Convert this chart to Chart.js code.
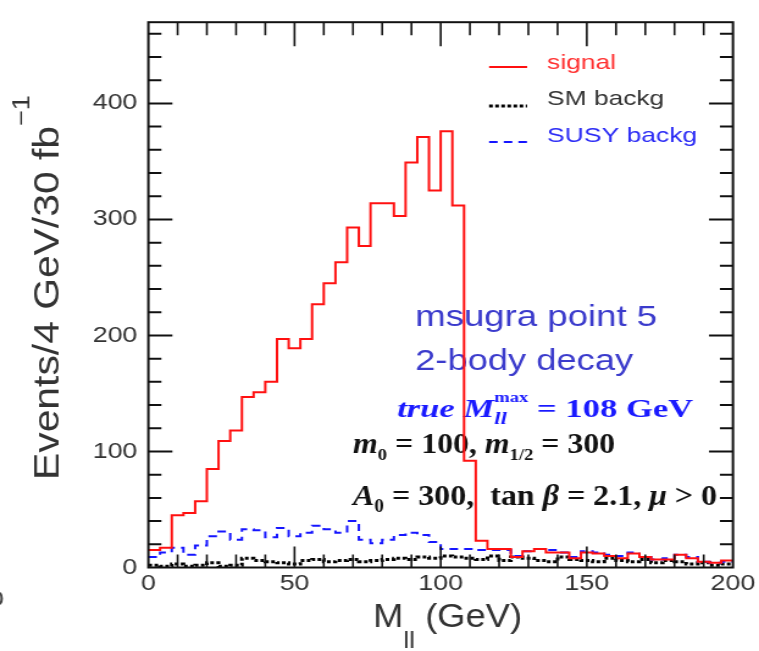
<!DOCTYPE html>
<html>
<head>
<meta charset="utf-8">
<script src="https://cdn.jsdelivr.net/npm/chart.js@4.4.1/dist/chart.umd.min.js"></script>
<style>
  html, body { margin: 0; padding: 0; background: #fff; overflow: hidden; }
</style>
</head>
<body>
<canvas id="c" width="622" height="651" style="display:block;width:759px;height:651px"></canvas>
<script>
// the original picture is stretched sideways, so the canvas is drawn narrow and widened by css
var S = 1.22;
var BIN = 4; // GeV per bin

// events per 4 GeV bin, M_ll from 0 to 200
var signal = [15, 17, 45, 47, 57, 85, 109, 118, 147, 151, 160, 197, 189, 197, 227, 245, 263, 293, 277, 314,
              314, 303, 349, 371, 325, 376, 312, 92, 23, 16, 16, 9, 14, 16, 13, 13, 8, 13, 12, 10,
              8, 12, 9, 7, 7, 11, 8, 5, 4, 6];
var smBackg = [2, 1, 3, 1, 2, 4, 1, 2, 8, 6, 5, 4, 3, 6, 7, 5, 6, 7, 5, 6,
               7, 8, 7, 9, 8, 10, 9, 8, 7, 10, 6, 9, 8, 6, 5, 9, 7, 6, 5, 8,
               6, 5, 7, 4, 6, 5, 3, 4, 2, 3];
var susyBackg = [9, 13, 17, 11, 19, 27, 31, 24, 33, 32, 26, 34, 27, 30, 36, 33, 30, 40, 24, 21,
                 24, 28, 30, 28, 22, 16, 16, 16, 15, 15, 15, 10, 14, 16, 15, 13, 9, 14, 13, 11,
                 10, 13, 9, 7, 8, 11, 9, 5, 4, 5];

var xTickVals = [0, 50, 100, 150, 200];
var yTickVals = [0, 100, 200, 300, 400];

var SANS = '"Liberation Sans", Arial, sans-serif';
var SERIF = '"Liberation Serif", "Times New Roman", serif';

function px(x) { return x / S; }

// histogram: one point per low bin edge, plus the upper edge of the last bin
function steps(vals) {
  var pts = vals.map(function(v, i) { return {x: i * BIN, y: v}; });
  pts.push({x: vals.length * BIN, y: vals[vals.length - 1]});
  return pts;
}

// draw a row of text pieces, squeezed or widened to a given width
function drawRich(ctx, segs, x, y, width, angle) {
  var total = 0;
  segs.forEach(function(s) {
    ctx.font = s.f;
    if (!s.noAdv) total += ctx.measureText(s.t).width;
  });
  var k = width ? width / total : 1;
  ctx.save();
  ctx.translate(x, y);
  if (angle) ctx.rotate(angle);
  ctx.scale(k, 1);
  ctx.textBaseline = 'alphabetic';
  ctx.textAlign = 'left';
  var cx = 0;
  segs.forEach(function(s) {
    ctx.font = s.f;
    ctx.fillStyle = s.c;
    ctx.fillText(s.t, cx, s.dy || 0);
    if (!s.noAdv) cx += ctx.measureText(s.t).width;
  });
  ctx.restore();
}

var decor = {
  id: 'decor',
  beforeDatasetsDraw: function(chart) {
    var ctx = chart.ctx;
    var blue = '#3b3bcc', tblue = '#1a1aff', blk = '#111';

    drawRich(ctx, [{t: 'msugra point 5', f: '30px ' + SANS, c: blue}], px(415), 326, px(242));
    drawRich(ctx, [{t: '2-body decay', f: '30px ' + SANS, c: blue}], px(415), 370, px(218));

    drawRich(ctx, [
      {t: 'true ', f: 'italic bold 26px ' + SERIF, c: tblue},
      {t: 'M', f: 'italic bold 26px ' + SERIF, c: tblue},
      {t: 'll', f: 'italic bold 17px ' + SERIF, c: tblue, dy: 7, noAdv: true},
      {t: 'max', f: 'bold 14px ' + SERIF, c: tblue, dy: -15},
      {t: ' = 108 GeV', f: 'bold 26px ' + SERIF, c: tblue}
    ], px(397), 417, px(296));

    drawRich(ctx, [
      {t: 'm', f: 'italic bold 29px ' + SERIF, c: blk},
      {t: '0', f: 'bold 17px ' + SERIF, c: blk, dy: 7},
      {t: ' = 100, ', f: 'bold 29px ' + SERIF, c: blk},
      {t: 'm', f: 'italic bold 29px ' + SERIF, c: blk},
      {t: '1/2', f: 'bold 17px ' + SERIF, c: blk, dy: 7},
      {t: ' = 300', f: 'bold 29px ' + SERIF, c: blk}
    ], px(353), 453, px(262));

    drawRich(ctx, [
      {t: 'A', f: 'italic bold 30px ' + SERIF, c: blk},
      {t: '0', f: 'bold 18px ' + SERIF, c: blk, dy: 7},
      {t: ' = 300,  tan ', f: 'bold 30px ' + SERIF, c: blk},
      {t: 'β', f: 'italic bold 30px ' + SERIF, c: blk},
      {t: ' = 2.1, ', f: 'bold 30px ' + SERIF, c: blk},
      {t: 'μ', f: 'italic bold 30px ' + SERIF, c: blk},
      {t: ' > 0', f: 'bold 30px ' + SERIF, c: blk}
    ], px(353), 505, px(364));

    // axis titles
    drawRich(ctx, [
      {t: 'Events/4 GeV/30 fb', f: '30px ' + SANS, c: '#333'},
      {t: '−1', f: '20px ' + SANS, c: '#333', dy: -24}
    ], px(58), 480, 385, -Math.PI / 2);

    drawRich(ctx, [
      {t: 'M', f: '33px ' + SANS, c: '#333'},
      {t: 'll', f: '24px ' + SANS, c: '#333', dy: 21},
      {t: ' (GeV)', f: '33px ' + SANS, c: '#333'}
    ], px(373), 627, px(149));

    // piece of a glyph cut by the left edge
    ctx.font = '22px ' + SANS;
    ctx.fillStyle = '#444';
    ctx.fillText('0', -9, 606);
  },
  afterDatasetsDraw: function(chart) {
    var ctx = chart.ctx, a = chart.chartArea;
    var xs = chart.scales.x, ys = chart.scales.y;
    ctx.save();
    ctx.strokeStyle = '#111';

    // ticks pointing inward on all four sides
    ctx.lineWidth = 1.6;
    ctx.beginPath();
    for (var v = 10; v < 200; v += 10) {
      var x = xs.getPixelForValue(v);
      var big = v % 50 === 0;
      ctx.moveTo(x, a.bottom); ctx.lineTo(x, a.bottom - (big ? 21 : 13));
      ctx.moveTo(x, a.top); ctx.lineTo(x, a.top + (big ? 24 : 13));
    }
    ctx.stroke();
    ctx.lineWidth = 2;
    ctx.beginPath();
    for (var w = 20; w < 470; w += 20) {
      var y = ys.getPixelForValue(w);
      var len = w % 100 === 0 ? px(24) : px(13);
      ctx.moveTo(a.left, y); ctx.lineTo(a.left + len, y);
      ctx.moveTo(a.right, y); ctx.lineTo(a.right - len, y);
    }
    ctx.stroke();

    ctx.lineWidth = 2;
    ctx.strokeRect(a.left, a.top, a.right - a.left, a.bottom - a.top);

    // legend
    var items = [
      {ds: 0, y: 67, ty: 69, tw: 69, text: '#ff3030'},
      {ds: 1, y: 106, ty: 105, tw: 117, text: '#333'},
      {ds: 2, y: 142, ty: 142, tw: 150, text: '#2b2bf5'}
    ];
    items.forEach(function(it) {
      var ds = chart.data.datasets[it.ds];
      ctx.strokeStyle = ds.borderColor;
      ctx.lineWidth = ds.borderWidth;
      ctx.setLineDash(ds.borderDash || []);
      ctx.beginPath();
      ctx.moveTo(px(489), it.y);
      ctx.lineTo(px(527), it.y);
      ctx.stroke();
      ctx.setLineDash([]);
      drawRich(ctx, [{t: ds.label, f: '21px ' + SANS, c: it.text}], px(547), it.ty, px(it.tw));
    });
    ctx.restore();
  }
};

var tickFont = {family: SANS, size: 22};

new Chart(document.getElementById('c'), {
  type: 'line',
  data: {
    datasets: [
      {label: 'signal', data: steps(signal), borderColor: '#ff1010', borderWidth: 2,
       stepped: true, pointRadius: 0, fill: false, order: 0},
      {label: 'SM backg', data: steps(smBackg), borderColor: '#000', borderWidth: 3,
       borderDash: [3, 2], stepped: true, pointRadius: 0, fill: false, order: 2},
      {label: 'SUSY backg', data: steps(susyBackg), borderColor: '#1515ff', borderWidth: 2,
       borderDash: [7, 5], stepped: true, pointRadius: 0, fill: false, order: 1}
    ]
  },
  options: {
    responsive: false,
    animation: false,
    devicePixelRatio: 1,
    layout: {padding: {top: 10, right: 21, left: 0, bottom: 0}},
    plugins: {legend: {display: false}, tooltip: {enabled: false}},
    scales: {
      x: {
        type: 'linear', min: 0, max: 200,
        grid: {display: false, drawTicks: false},
        border: {display: false},
        ticks: {font: tickFont, color: '#333', padding: 3, maxRotation: 0, autoSkip: false},
        afterBuildTicks: function(s) { s.ticks = xTickVals.map(function(v) { return {value: v}; }); },
        afterFit: function(s) { s.height = 83.5; }
      },
      y: {
        min: 0, max: 470,
        grid: {display: false, drawTicks: false},
        border: {display: false},
        ticks: {font: tickFont, color: '#333', padding: 9},
        afterBuildTicks: function(s) { s.ticks = yTickVals.map(function(v) { return {value: v}; }); },
        afterFit: function(s) { s.width = 121.6; }
      }
    }
  },
  plugins: [decor]
});
</script>
</body>
</html>
